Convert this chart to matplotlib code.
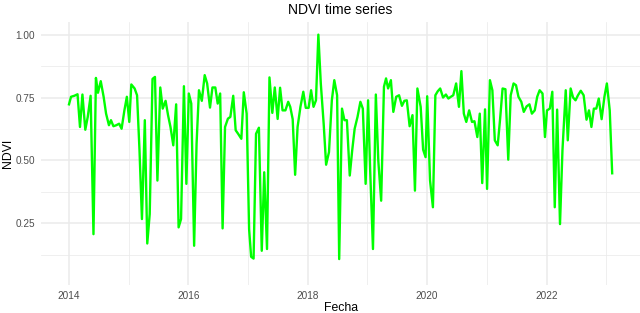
import matplotlib
matplotlib.use("Agg")
import matplotlib.pyplot as plt
from matplotlib.ticker import FixedLocator

plt.rcParams['font.family'] = ['Liberation Sans', 'DejaVu Sans']

# Fecha (decimal years)
fecha = [
    2014.000, 2014.034, 2014.089, 2014.143, 2014.184, 2014.225, 2014.273, 2014.314, 2014.362, 2014.410,
    2014.451, 2014.485, 2014.532, 2014.580, 2014.621, 2014.669, 2014.703, 2014.744, 2014.792, 2014.840,
    2014.881, 2014.928, 2014.969, 2015.010, 2015.044, 2015.099, 2015.140, 2015.181, 2015.222, 2015.270,
    2015.311, 2015.352, 2015.399, 2015.440, 2015.481, 2015.529, 2015.570, 2015.618, 2015.659, 2015.700,
    2015.747, 2015.795, 2015.836, 2015.877, 2015.925, 2015.966, 2016.007, 2016.048, 2016.096, 2016.137,
    2016.177, 2016.225, 2016.273, 2016.314, 2016.362, 2016.403, 2016.451, 2016.491, 2016.532, 2016.573,
    2016.614, 2016.662, 2016.703, 2016.751, 2016.792, 2016.833, 2016.887, 2016.928, 2016.976, 2017.017,
    2017.051, 2017.092, 2017.133, 2017.181, 2017.229, 2017.270, 2017.317, 2017.358, 2017.406, 2017.447,
    2017.495, 2017.536, 2017.577, 2017.625, 2017.672, 2017.706, 2017.747, 2017.788, 2017.829, 2017.877,
    2017.925, 2017.966, 2018.014, 2018.055, 2018.096, 2018.137, 2018.177, 2018.218, 2018.266, 2018.307,
    2018.355, 2018.403, 2018.444, 2018.491, 2018.526, 2018.573, 2018.614, 2018.655, 2018.703, 2018.744,
    2018.785, 2018.833, 2018.881, 2018.922, 2018.969, 2019.010, 2019.044, 2019.092, 2019.140, 2019.181,
    2019.229, 2019.276, 2019.311, 2019.345, 2019.392, 2019.433, 2019.481, 2019.529, 2019.577, 2019.618,
    2019.659, 2019.706, 2019.754, 2019.795, 2019.836, 2019.891, 2019.932, 2019.973, 2020.000, 2020.048,
    2020.096, 2020.137, 2020.177, 2020.218, 2020.266, 2020.314, 2020.355, 2020.396, 2020.437, 2020.485,
    2020.532, 2020.573, 2020.614, 2020.655, 2020.703, 2020.751, 2020.792, 2020.840, 2020.881, 2020.922,
    2020.969, 2021.003, 2021.051, 2021.092, 2021.133, 2021.181, 2021.222, 2021.263, 2021.311, 2021.358,
    2021.399, 2021.447, 2021.488, 2021.529, 2021.577, 2021.618, 2021.666, 2021.713, 2021.754, 2021.802,
    2021.843, 2021.884, 2021.932, 2021.973, 2022.007, 2022.055, 2022.096, 2022.137, 2022.177, 2022.225,
    2022.266, 2022.321, 2022.355, 2022.403, 2022.444, 2022.485, 2022.526, 2022.573, 2022.621, 2022.669,
    2022.710, 2022.751, 2022.792, 2022.833, 2022.874, 2022.922, 2022.969, 2023.010, 2023.058, 2023.099,
]

ndvi = [
    0.723, 0.753, 0.757, 0.763, 0.633, 0.762, 0.622, 0.673, 0.757, 0.207,
    0.828, 0.769, 0.815, 0.753, 0.686, 0.640, 0.660, 0.636, 0.640, 0.646,
    0.626, 0.699, 0.753, 0.653, 0.802, 0.786, 0.759, 0.540, 0.267, 0.660,
    0.170, 0.287, 0.824, 0.832, 0.420, 0.790, 0.706, 0.737, 0.680, 0.633,
    0.560, 0.723, 0.234, 0.267, 0.795, 0.407, 0.766, 0.726, 0.161, 0.566,
    0.779, 0.737, 0.839, 0.806, 0.710, 0.790, 0.790, 0.726, 0.766, 0.230,
    0.633, 0.666, 0.673, 0.757, 0.620, 0.606, 0.586, 0.771, 0.686, 0.227,
    0.117, 0.110, 0.606, 0.630, 0.141, 0.453, 0.148, 0.830, 0.689, 0.790,
    0.665, 0.789, 0.699, 0.699, 0.733, 0.713, 0.664, 0.443, 0.633, 0.713,
    0.773, 0.709, 0.709, 0.779, 0.713, 0.739, 1.000, 0.806, 0.646, 0.483,
    0.533, 0.739, 0.819, 0.759, 0.108, 0.706, 0.660, 0.660, 0.440, 0.540,
    0.626, 0.673, 0.733, 0.706, 0.407, 0.739, 0.467, 0.148, 0.762, 0.500,
    0.340, 0.793, 0.826, 0.786, 0.819, 0.693, 0.753, 0.759, 0.717, 0.737,
    0.739, 0.636, 0.680, 0.380, 0.786, 0.713, 0.543, 0.513, 0.755, 0.420,
    0.314, 0.759, 0.775, 0.786, 0.750, 0.762, 0.746, 0.753, 0.759, 0.806,
    0.713, 0.855, 0.686, 0.653, 0.699, 0.653, 0.656, 0.593, 0.686, 0.410,
    0.703, 0.387, 0.819, 0.779, 0.580, 0.560, 0.666, 0.786, 0.783, 0.503,
    0.759, 0.806, 0.799, 0.753, 0.733, 0.693, 0.715, 0.723, 0.686, 0.699,
    0.753, 0.779, 0.766, 0.593, 0.699, 0.706, 0.773, 0.314, 0.702, 0.247,
    0.540, 0.779, 0.580, 0.786, 0.750, 0.739, 0.759, 0.777, 0.759, 0.662,
    0.699, 0.633, 0.706, 0.706, 0.746, 0.664, 0.753, 0.806, 0.699, 0.449,
]

x_major = [2014, 2016, 2018, 2020, 2022]
x_labels = ["2014", "2016", "2018", "2020", "2022"]
x_minor = [2015, 2017, 2019, 2021, 2023]
y_major = [0.25, 0.50, 0.75, 1.00]
y_labels = ["0.25", "0.50", "0.75", "1.00"]
y_minor = [0.125, 0.375, 0.625, 0.875]

fig = plt.figure(figsize=(6.4, 3.13), dpi=100)
W, H = 640, 313
left, right, top, bottom = 41.3, 640, 22.3, 285
ax = fig.add_axes([left / W, 1 - bottom / H, (right - left) / W, (bottom - top) / H])

ax.plot(fecha, ndvi, color="#00FF00", linewidth=1.7, solid_joinstyle="round", zorder=3)

ax.set_xlim(2013.536, 2023.565)
ax.set_ylim(0.005, 1.049)

ax.xaxis.set_major_locator(FixedLocator(x_major))
ax.set_xticklabels(x_labels)
ax.xaxis.set_minor_locator(FixedLocator(x_minor))
ax.yaxis.set_major_locator(FixedLocator(y_major))
ax.set_yticklabels(y_labels)
ax.yaxis.set_minor_locator(FixedLocator(y_minor))

ax.grid(which="major", color="#EBEBEB", linewidth=1.1, zorder=0)
ax.grid(which="minor", color="#EBEBEB", linewidth=0.55, zorder=0)
for s in ax.spines.values():
    s.set_visible(False)
ax.tick_params(which="both", length=0)
ax.tick_params(axis="both", labelsize=7.2, labelcolor="#4D4D4D")
ax.tick_params(axis="y", pad=4.5)
ax.tick_params(axis="x", pad=4)

ax.set_xlabel("Fecha", fontsize=8.8, color="black", labelpad=0)
ax.xaxis.set_label_coords(0.5, -0.066)
ax.xaxis.label.set_va("top")
ax.set_ylabel("NDVI", fontsize=8.8, color="black", labelpad=3)
ax.yaxis.set_label_coords(-0.046, 0.5)
ax.set_title("NDVI time series", fontsize=10, color="black", pad=6)

fig.savefig("out.png", dpi=100)
